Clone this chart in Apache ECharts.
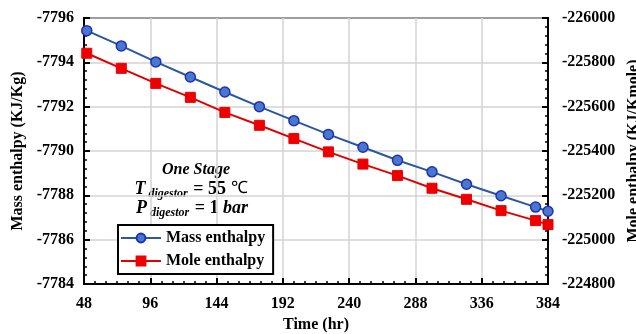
<!DOCTYPE html>
<html>
<head>
<meta charset="utf-8">
<script src="https://cdn.jsdelivr.net/npm/echarts@6/dist/echarts.min.js"></script>
<style>
  html, body { margin: 0; padding: 0; background: #fff; }
  #chart { width: 636px; height: 334px; }
</style>
</head>
<body>
<div id="chart"></div>
<script>
// 时间 (hr)
var timeHr = [50, 75, 100, 125, 150, 175, 200, 225, 250, 275, 300, 325, 350, 375, 384];
// Mass enthalpy (KJ/Kg)
var massEnthalpy = [-7795.43, -7794.74, -7794.02, -7793.34, -7792.66, -7792.00, -7791.37, -7790.75,
                    -7790.17, -7789.58, -7789.06, -7788.50, -7787.98, -7787.47, -7787.28];
// Mole enthalpy (KJ/Kmole)
var moleEnthalpy = [-225841, -225773, -225705, -225642, -225574, -225516, -225456, -225396,
                    -225341, -225289, -225232, -225182, -225131, -225086, -225068];

var serif = '"Liberation Serif", "Times New Roman", serif';

function pairs(xs, ys) {
    return xs.map(function (x, i) { return [x, ys[i]]; });
}

var chart = echarts.init(document.getElementById('chart'));

var axisFont = { fontFamily: serif, fontWeight: 'bold', fontSize: 16, color: '#000' };

// 注释文字的富文本样式
var mathRich = {
    v: { fontFamily: serif, fontStyle: 'italic', fontWeight: 'bold', fontSize: 18, fill: '#000' },
    s: { fontFamily: serif, fontStyle: 'italic', fontWeight: 'bold', fontSize: 12, fill: '#000', padding: [9, 1, 0, 3] },
    n: { fontFamily: serif, fontWeight: 'bold', fontSize: 18, fill: '#000' },
    c: { fontFamily: serif, fontSize: 17, fill: '#000' }
};

var option = {
    animation: false,
    backgroundColor: '#fff',
    grid: {
        left: 84, right: 88, top: 18, bottom: 50,
        containLabel: false,
        outerBoundsMode: 'none',
        show: true, borderColor: '#000', borderWidth: 2
    },
    legend: {
        left: 118, top: 225,
        orient: 'vertical',
        backgroundColor: '#fff',
        borderColor: '#000', borderWidth: 2, borderRadius: 0,
        padding: [5, 8, 5, 2],
        itemGap: 7,
        itemWidth: 40, itemHeight: 11,
        textStyle: { fontFamily: serif, fontWeight: 'bold', fontSize: 16, color: '#000' },
        data: ['Mass enthalpy', 'Mole enthalpy']
    },
    xAxis: {
        type: 'value',
        min: 48, max: 384, interval: 48,
        name: 'Time (hr)', nameLocation: 'middle', nameGap: 30,
        nameTextStyle: axisFont,
        axisLine: { lineStyle: { color: '#000', width: 2 } },
        axisTick: { inside: true, length: 6, lineStyle: { color: '#000', width: 2 } },
        minorTick: { show: true, splitNumber: 6, length: 3, lineStyle: { color: '#000', width: 1.5 } },
        axisLabel: Object.assign({ margin: 12 }, axisFont),
        splitLine: { show: true, lineStyle: { color: '#d3d3d3', width: 1.5 } }
    },
    yAxis: [{
        type: 'value',
        inverse: true,
        min: -7796, max: -7784, interval: 2,
        name: 'Mass enthalpy (KJ/Kg)', nameLocation: 'middle', nameGap: 55,
        nameTextStyle: axisFont,
        axisLine: { show: true, lineStyle: { color: '#000', width: 2 } },
        axisTick: { show: true, inside: true, length: 6, lineStyle: { color: '#000', width: 2 } },
        minorTick: { show: true, splitNumber: 5, length: 3, lineStyle: { color: '#000', width: 1.5 } },
        axisLabel: Object.assign({ margin: 10, formatter: function (v) { return String(v); } }, axisFont),
        splitLine: { show: true, lineStyle: { color: '#d3d3d3', width: 1.5 } }
    }, {
        type: 'value',
        inverse: true,
        min: -226000, max: -224800, interval: 200,
        name: 'Mole enthalpy (KJ/Kmole)', nameLocation: 'middle', nameGap: 74,
        nameRotate: 90,
        nameTextStyle: axisFont,
        axisLine: { show: true, lineStyle: { color: '#000', width: 2 } },
        axisTick: { show: true, inside: true, length: 6, lineStyle: { color: '#000', width: 2 } },
        minorTick: { show: true, splitNumber: 5, length: 3, lineStyle: { color: '#000', width: 1.5 } },
        axisLabel: Object.assign({ margin: 14, formatter: function (v) { return String(v); } }, axisFont),
        splitLine: { show: false }
    }],
    graphic: [{
        type: 'text', x: 196, y: 170,
        style: {
            text: 'One Stage', fontFamily: serif, fontStyle: 'italic', fontWeight: 'bold',
            fontSize: 16, fill: '#000', align: 'center', verticalAlign: 'middle'
        }
    }, {
        type: 'text', x: 191, y: 189,
        style: {
            text: '{v|T}{s|digestor}{n| = 55 }{c|℃}',
            align: 'center', verticalAlign: 'middle',
            rich: mathRich
        }
    }, {
        type: 'text', x: 192, y: 208,
        style: {
            text: '{v|P}{s|digestor}{n| = 1 }{v|bar}',
            align: 'center', verticalAlign: 'middle',
            rich: mathRich
        }
    }],
    series: [{
        name: 'Mass enthalpy',
        type: 'line',
        yAxisIndex: 0,
        data: pairs(timeHr, massEnthalpy),
        symbol: 'circle', symbolSize: 10,
        lineStyle: { color: '#2957a4', width: 2 },
        itemStyle: { color: '#4a78c8', borderColor: '#1c2fc0', borderWidth: 1.5 }
    }, {
        name: 'Mole enthalpy',
        type: 'line',
        yAxisIndex: 1,
        data: pairs(timeHr, moleEnthalpy),
        symbol: 'rect', symbolSize: 10,
        lineStyle: { color: '#e00000', width: 2 },
        itemStyle: { color: '#ee0000', borderColor: '#ee0000', borderWidth: 1 }
    }]
};

chart.setOption(option);
</script>
</body>
</html>
